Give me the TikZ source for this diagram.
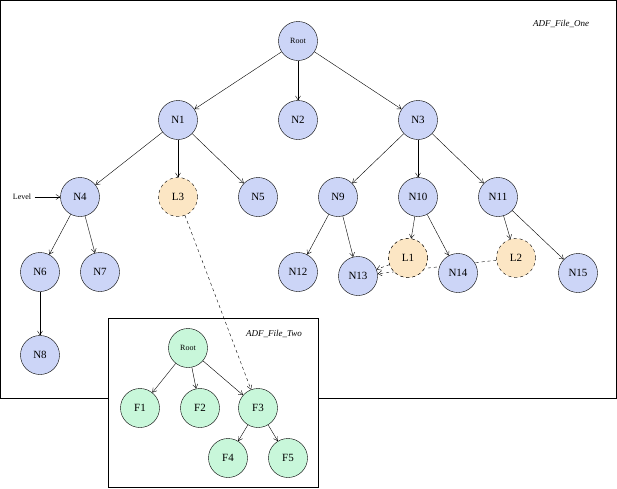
\documentclass[tikz,border=0pt]{standalone}
\usepackage{fontspec}
\setmainfont{Liberation Serif}
\usetikzlibrary{arrows.meta}
\definecolor{cb}{HTML}{CCD5F7}
\definecolor{cy}{HTML}{FCE6C4}
\definecolor{cg}{HTML}{C8F7DA}
\begin{document}
\begin{tikzpicture}[x=1pt,y=-1pt,
  nd/.style={circle,draw,minimum size=39pt,inner sep=0pt,font=\fontsize{11}{13}\selectfont},
  bl/.style={nd,fill=cb},
  yl/.style={nd,fill=cy,dashed},
  gr/.style={nd,fill=cg},
  ar/.style={-{Straight Barb[length=4pt,width=5pt]},line width=0.4pt},
  da/.style={ar,dashed}]
\useasboundingbox (0,0) rectangle (617,488);
\draw[fill=white] (0.5,0.5) rectangle (616.5,398);
\node[font=\itshape\fontsize{9}{11}\selectfont] (t1) at (561,24) {ADF\_File\_One};
\node[font=\fontsize{8}{10}\selectfont] (lv) at (22,197) {Level};
\node[bl] (N13) at (358,276) {N13};
\node[yl] (L1) at (408,258) {L1};
\node[yl] (L2) at (516,258) {L2};
\draw[da] (L2) -- (N13);
\node[bl] (N14) at (458,273) {N14};
\draw[da] (L1) -- (N13);
\node[yl] (L1b) at (408,258) {L1};
\node[bl] (Root) at (298,41) {\fontsize{8}{10}\selectfont Root};
\node[bl] (N1) at (178,120) {N1};
\node[bl] (N2) at (298,120) {N2};
\node[bl] (N3) at (418,120) {N3};
\node[bl] (N4) at (80,197) {N4};
\node[yl] (L3) at (178,197) {L3};
\node[bl] (N5) at (258,197) {N5};
\node[bl] (N9) at (338,197) {N9};
\node[bl] (N10) at (418,197) {N10};
\node[bl] (N11) at (498,197) {N11};
\node[bl] (N6) at (40,272) {N6};
\node[bl] (N7) at (100,272) {N7};
\node[bl] (N12) at (298,272) {N12};
\node[bl] (N15) at (578,273) {N15};
\node[bl] (N8) at (40,355) {N8};
\foreach \a/\b in {Root/N1,Root/N2,Root/N3,N1/N4,N1/L3,N1/N5,N3/N9,N3/N10,N3/N11,N4/N6,N4/N7,N6/N8,N9/N12,N9/N13,N10/L1b,N10/N14,N11/L2,N11/N15}
  \draw[ar] (\a) -- (\b);
\draw[ar] (lv) -- (N4);
\draw[fill=white] (108.5,318.5) rectangle (318.5,487.5);
\node[font=\itshape\fontsize{9}{11}\selectfont] (t2) at (274,334) {ADF\_File\_Two};
\node[gr] (R2) at (188,348) {\fontsize{8}{10}\selectfont Root};
\node[gr] (F1) at (140,408) {F1};
\node[gr] (F2) at (200,408) {F2};
\node[gr] (F3) at (258,408) {F3};
\node[gr] (F4) at (228,458) {F4};
\node[gr] (F5) at (288,458) {F5};
\foreach \a/\b in {R2/F1,R2/F2,R2/F3,F3/F4,F3/F5}
  \draw[ar] (\a) -- (\b);
\draw[da] (L3) -- (F3);
\end{tikzpicture}
\end{document}
